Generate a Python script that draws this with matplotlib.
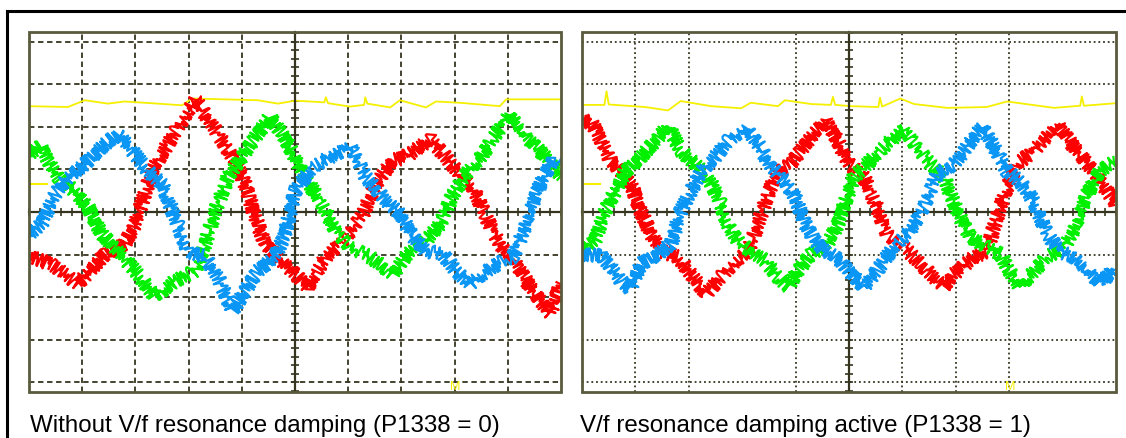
import numpy as np
import matplotlib
matplotlib.use("Agg")
import matplotlib.pyplot as plt
from matplotlib.patches import Rectangle
from matplotlib.lines import Line2D

# time axis in scope divisions (0..10), amplitude in divisions (-4..4)
left_red_t = [0, 0.45, 0.92, 1.43, 1.8, 2.0, 2.31, 2.61, 3.12, 3.55, 3.87, 4.06, 4.25, 4.44, 4.68, 5.0, 5.24, 5.58, 5.96,
              6.28, 6.52, 6.84, 7.16, 7.54, 7.84, 8.10, 8.35, 8.59, 8.85, 9.15, 9.47, 9.79, 10.0]
left_red_v = [-1.03, -1.25, -1.69, -0.99, -0.75, -0.28, 0.96, 1.6, 2.66, 1.84, 1.2, 0.66, -0.12, -0.75, -1.06, -1.46, -1.76,
              -1.06, -0.59, -0.05, 0.66, 1.2, 1.36, 1.72, 1.29, 0.89, 0.59, -0.12, -0.75, -1.22, -1.86, -2.4, -1.69]
left_green_t = [0, 0.21, 0.36, 0.55, 0.86, 1.11, 1.37, 1.67, 2.0, 2.37, 2.74, 3.12, 3.31, 3.5, 3.74, 4.0, 4.3, 4.53, 4.76,
                5.0, 5.15, 5.47, 5.77, 6.03, 6.41, 6.84, 7.16, 7.46, 7.73, 7.97, 8.21, 8.53, 8.78, 9.04, 9.34, 9.72, 10.0]
left_green_v = [1.36, 1.55, 1.2, 0.82, 0.49, 0.12, -0.52, -0.92, -1.39, -2.0, -1.62, -1.39, -0.75, 0.02, 0.82, 1.29, 1.84,
                2.24, 1.84, 1.29, 0.89, 0.26, -0.45, -0.82, -1.06, -1.46, -0.92, -0.68, -0.28, 0.42, 0.89, 1.36, 1.84,
                2.31, 1.76, 1.29, 0.82]
left_blue_t = [0, 0.24, 0.49, 0.73, 1.05, 1.37, 1.67, 1.94, 2.24, 2.5, 2.74, 2.99, 3.31, 3.55, 3.83, 4.06, 4.3, 4.62, 4.81,
               5.0, 5.34, 5.66, 6.05, 6.33, 6.65, 6.97, 7.22, 7.46, 7.78, 8.03, 8.29, 8.59, 8.91, 9.1, 9.34, 9.61, 9.85, 10.0]
left_blue_v = [-0.52, -0.28, 0.42, 0.82, 1.13, 1.53, 1.84, 1.44, 0.96, 0.66, -0.12, -0.92, -1.06, -1.53, -2.33, -1.86,
               -1.39, -1.06, -0.52, 0.5, 1.06, 1.29, 1.55, 0.82, 0.35, -0.05, -0.59, -0.92, -0.99, -1.39, -1.69, -1.39,
               -1.15, -1.06, -0.28, 0.66, 1.2, 1.13]
left_yel_t = [0, 0.73, 1.05, 1.48, 1.8, 2.42, 2.88, 3.06, 3.68, 4.3, 4.68, 5.0, 5.55, 5.58, 5.62, 6.03, 6.3, 6.32, 6.36,
              6.79, 6.97, 7.46, 7.65, 8.1, 8.85, 8.97, 10.0]
left_yel_v = [2.49, 2.47, 2.63, 2.55, 2.6, 2.55, 2.51, 2.67, 2.65, 2.63, 2.55, 2.62, 2.58, 2.7, 2.56, 2.48, 2.52, 2.7,
              2.55, 2.46, 2.63, 2.46, 2.6, 2.57, 2.49, 2.65, 2.65]

right_red_t = [0, 0.17, 0.36, 0.54, 0.73, 0.92, 1.1, 1.29, 1.48, 1.8, 2.04, 2.32, 2.6, 2.87, 3.11, 3.3, 3.48, 3.67, 3.91,
               4.23, 4.57, 4.79, 5.0, 5.28, 5.52, 5.71, 6.03, 6.33, 6.78, 6.97, 7.34, 7.58, 7.77, 7.96, 8.15, 8.46, 8.9,
               9.21, 9.46, 9.7, 10.0]
right_red_v = [2.12, 2.14, 1.67, 1.2, 0.96, 0.66, 0.02, -0.52, -0.92, -1.06, -1.46, -1.93, -1.53, -1.15, -0.92, -0.28,
               0.42, 0.96, 1.13, 1.67, 2.14, 1.67, 1.13, 0.82, 0.12, -0.52, -0.82, -1.22, -1.76, -1.46, -1.06, -0.92,
               -0.12, 0.59, 1.13, 1.44, 2.07, 1.53, 1.13, 0.73, 0.19]
right_green_t = [0, 0.24, 0.43, 0.62, 0.81, 1.1, 1.37, 1.61, 1.85, 2.12, 2.36, 2.55, 2.73, 2.92, 3.16, 3.43, 3.67, 3.86,
                 4.04, 4.29, 4.61, 4.79, 4.98, 5.09, 5.34, 5.71, 6.03, 6.27, 6.52, 6.78, 7.02, 7.27, 7.58, 7.83, 8.01,
                 8.2, 8.46, 8.71, 9.03, 9.27, 9.46, 9.7, 10.0]
right_green_v = [-0.92, -0.68, 0.02, 0.49, 0.96, 1.29, 1.67, 2.02, 1.44, 1.13, 0.82, 0.35, -0.28, -0.68, -0.92, -1.15,
                 -1.53, -1.76, -1.39, -0.99, -0.75, -0.28, 0.42, 0.82, 1.13, 1.6, 1.95, 1.53, 1.13, 0.82, 0.02, -0.59,
                 -0.82, -0.99, -1.39, -1.76, -1.39, -1.06, -0.82, -0.28, 0.42, 0.96, 1.2]
right_blue_t = [0, 0.36, 0.54, 0.73, 0.9, 1.1, 1.42, 1.67, 1.85, 2.04, 2.23, 2.49, 2.73, 3.07, 3.3, 3.54, 3.8, 3.99,
                4.18, 4.36, 4.55, 4.85, 5.04, 5.28, 5.52, 5.84, 6.14, 6.4, 6.65, 6.97, 7.21, 7.49, 7.72, 7.96, 8.2, 8.46,
                8.71, 8.95, 9.21, 9.46, 9.7, 10.0]
right_blue_v = [-0.99, -1.03, -1.29, -1.62, -1.81, -1.22, -0.99, -0.75, 0.02, 0.49, 0.96, 1.29, 1.67, 2.0, 1.6, 1.06,
                0.73, 0.35, -0.28, -0.68, -0.92, -1.15, -1.46, -1.76, -1.39, -0.82, -0.45, 0.12, 0.89, 1.13, 1.53, 2.0,
                1.53, 0.96, 0.73, 0.26, -0.52, -0.92, -1.06, -1.39, -1.69, -1.29]
right_yel_t = [0, 0.42, 0.46, 0.5, 1.18, 1.61, 1.85, 2.42, 2.98, 3.16, 3.67, 3.8, 4.29, 4.66, 4.7, 4.74, 5.04, 5.55,
               5.58, 5.62, 5.96, 6.22, 6.84, 7.58, 7.96, 8.84, 9.33, 9.36, 9.4, 10.0]
right_yel_v = [2.52, 2.52, 2.84, 2.53, 2.47, 2.39, 2.61, 2.49, 2.44, 2.57, 2.49, 2.63, 2.54, 2.52, 2.71, 2.52, 2.49,
               2.47, 2.69, 2.48, 2.67, 2.54, 2.45, 2.47, 2.6, 2.45, 2.5, 2.72, 2.5, 2.56]

captions = ["Without V/f resonance damping (P1338 = 0)", "V/f resonance damping active (P1338 = 1)"]

RED, GREEN, BLUE, YEL = "#ff0000", "#00f000", "#0a96f5", "#f5f000"
GRID = "#35351f"
FRAME = "#5a5a3c"

W, H = 1126, 439
fig = plt.figure(figsize=(W / 100, H / 100), dpi=100)
plt.rcParams["font.family"] = ["Liberation Sans", "DejaVu Sans"]


def scope(ax, traces, yel, vlines, hlines, style):
    ax.set_xlim(0, 10)
    ax.set_ylim(-4.235, 4.235)
    for x in vlines:
        ax.axvline(x, color=GRID, lw=1.3, ls=style, zorder=1)
    for y in hlines:
        ax.axhline(y, color=GRID, lw=1.3, ls=style, zorder=1)
    # center cross of the screen with small ticks
    ax.spines["left"].set_position(("data", 5))
    ax.spines["bottom"].set_position(("data", 0))
    ax.spines[["top", "right"]].set_visible(False)
    for s in ["left", "bottom"]:
        ax.spines[s].set_color(GRID)
        ax.spines[s].set_linewidth(1.6)
    ax.set_xticks(np.arange(0, 10.01, 0.2))
    ax.set_yticks(np.arange(-4.2, 4.21, 0.2))
    ax.tick_params(direction="inout", length=6, width=1.2, color=GRID, labelbottom=False, labelleft=False)
    ax.add_patch(Rectangle((0, 0), 1, 1, transform=ax.transAxes, fill=False, ec=FRAME, lw=2, clip_on=False, zorder=5))

    t, v = yel
    ax.plot(t, v, color=YEL, lw=1.3, zorder=2)
    for (t, v), c in traces:
        ln, = ax.plot(t, v, color=c, lw=1.6, zorder=3)
        ln.set_sketch_params(scale=7, length=1.2, randomness=2)
    ax.plot([0, 0.34], [0.66, 0.66], color=YEL, lw=1.5, zorder=4)
    ax.text(8.02, -4.1, "M", color=YEL, fontsize=9, ha="center", va="center", zorder=6)


ax1 = fig.add_axes([29 / W, 46 / H, 532 / W, 360 / H])
scope(ax1,
      [((left_red_t, left_red_v), RED), ((left_green_t, left_green_v), GREEN), ((left_blue_t, left_blue_v), BLUE)],
      (left_yel_t, left_yel_v),
      [1, 2, 3, 4, 6, 7, 8, 9], [-4, -3, -2, -1, 1, 2, 3, 4], (0, (3, 2)))

ax2 = fig.add_axes([582 / W, 46 / H, 534 / W, 360 / H])
scope(ax2,
      [((right_red_t, right_red_v), RED), ((right_green_t, right_green_v), GREEN),
       ((right_blue_t, right_blue_v), BLUE)],
      (right_yel_t, right_yel_v),
      [1, 2, 4, 6, 7, 8], [-4, -3, -1, 1, 3, 4], (0, (1, 1.6)))

# outer black border (runs off the right and bottom of the image)
fig.add_artist(Line2D([7 / W, 1.0], [1 - 12 / H] * 2, color="black", lw=2.2))
fig.add_artist(Line2D([7 / W] * 2, [0, 1 - 12 / H], color="black", lw=2.2))

fig.text(30 / W, 7 / H, captions[0], fontsize=17.4, va="baseline", ha="left")
fig.text(580 / W, 7 / H, captions[1], fontsize=17.4, va="baseline", ha="left")

fig.savefig("out.png", dpi=100)
